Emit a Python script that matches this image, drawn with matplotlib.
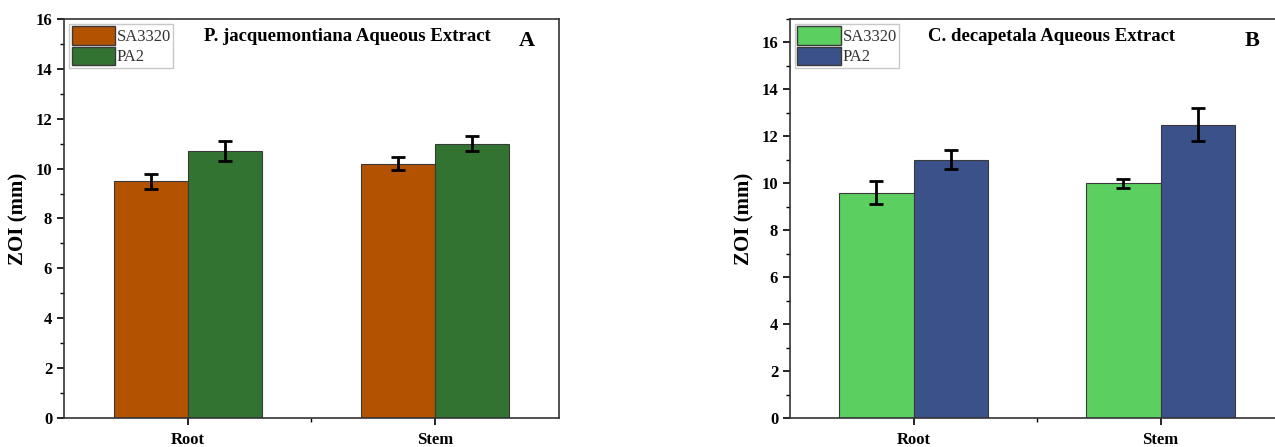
import numpy as np
import matplotlib.pyplot as plt
from matplotlib.ticker import MultipleLocator, FixedLocator
from matplotlib.patches import Patch

plt.rcParams['font.family'] = ['Liberation Serif', 'DejaVu Serif']

#%% data
categories = ['Root', 'Stem']
series_names = ['SA3320', 'PA2']

a_sa = [9.5, 10.2]
a_sa_err = [0.3, 0.27]
a_pa = [10.7, 11.0]
a_pa_err = [0.4, 0.3]

b_sa = [9.6, 10.0]
b_sa_err = [0.5, 0.2]
b_pa = [11.0, 12.5]
b_pa_err = [0.4, 0.7]

#%% figure
fig = plt.figure(figsize=(12.75, 4.47), dpi=100)
ax1 = fig.add_axes([0.0502, 0.0649, 0.3882, 0.8926])
ax2 = fig.add_axes([0.6196, 0.0649, 0.3875, 0.8926])


def panel(ax, sa, sa_err, pa, pa_err, cols, ytop, title, letter, title_x, letter_x):
    x = np.arange(1, len(categories) + 1)
    w = 0.3
    ax.bar(x - w/2, sa, w, color=cols[0], edgecolor='#3a3a3a', linewidth=0.8,
           yerr=sa_err, capsize=5, error_kw=dict(elinewidth=2, capthick=2, ecolor='black'))
    ax.bar(x + w/2, pa, w, color=cols[1], edgecolor='#3a3a3a', linewidth=0.8,
           yerr=pa_err, capsize=5, error_kw=dict(elinewidth=2, capthick=2, ecolor='black'))
    ax.set_xlim(0.5, 2.5)
    ax.set_ylim(0, ytop)
    ax.set_xticks(x)
    ax.set_xticklabels(categories, fontweight='bold', fontsize=12)
    ax.xaxis.set_minor_locator(FixedLocator([1.5]))
    ax.yaxis.set_major_locator(MultipleLocator(2))
    ax.yaxis.set_minor_locator(MultipleLocator(1))
    ax.tick_params(axis='both', which='major', direction='out', length=5, width=1.2, labelsize=12)
    ax.tick_params(axis='x', which='major', pad=5)
    ax.tick_params(axis='both', which='minor', direction='out', length=3, width=1)
    for lab in ax.get_yticklabels():
        lab.set_fontweight('bold')
    for s in ax.spines.values():
        s.set_linewidth(1.2)
        s.set_color('#333333')
    ax.set_ylabel('ZOI (mm)', fontweight='bold', fontsize=15, labelpad=5)
    handles = [Patch(facecolor=cols[0], edgecolor='#3a3a3a'),
               Patch(facecolor=cols[1], edgecolor='#3a3a3a')]
    leg = ax.legend(handles, series_names, loc='upper left', fontsize=12, frameon=True,
                    fancybox=False, edgecolor='#bbbbbb', handlelength=2.6, handleheight=1.3,
                    handletextpad=0.1, labelspacing=0.1, borderpad=0.15, borderaxespad=0.3)
    for t in leg.get_texts():
        t.set_color('#333333')
    ax.text(title_x, 0.955, title, transform=ax.transAxes, ha='center', va='center',
            fontweight='bold', fontsize=13.5)
    ax.text(letter_x, 0.945, letter, transform=ax.transAxes, ha='center', va='center',
            fontweight='bold', fontsize=16)


panel(ax1, a_sa, a_sa_err, a_pa, a_pa_err, ['#b35200', '#327332'], 16,
      'P. jacquemontiana Aqueous Extract', 'A', 0.572, 0.935)
panel(ax2, b_sa, b_sa_err, b_pa, b_pa_err, ['#5bcf60', '#3a518a'], 17,
      'C. decapetala Aqueous Extract', 'B', 0.53, 0.935)

fig.savefig('out.png', dpi=100)
